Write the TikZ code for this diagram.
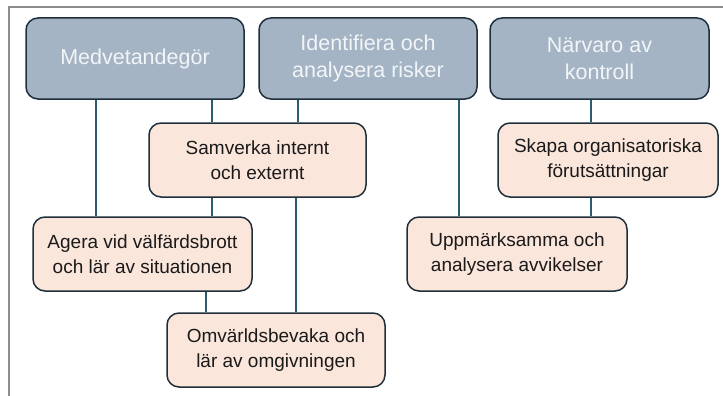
\documentclass[tikz,border=0pt]{standalone}
\usepackage{fontspec}
\setmainfont{Liberation Sans}
\definecolor{topfill}{HTML}{A4B4C4}
\definecolor{subfill}{HTML}{FBE6DC}
\definecolor{boxline}{HTML}{1E2E3A}
\definecolor{conline}{HTML}{2C5C72}
\definecolor{frameg}{HTML}{8C8C8C}
\definecolor{toptext}{HTML}{F2F5F7}
\definecolor{subtext}{HTML}{1A1A1A}
\begin{document}
\begin{tikzpicture}[x=1pt,y=-1pt,
  topbox/.style={draw=boxline, line width=1.5pt, fill=topfill, rounded corners=12pt,
    minimum width=218pt, minimum height=81pt, inner sep=0pt, align=center,
    text=toptext, font=\fontsize{21.5}{27}\selectfont},
  subbox/.style={draw=boxline, line width=1.5pt, fill=subfill, rounded corners=12pt,
    minimum width=218pt, minimum height=74pt, inner sep=0pt, align=center,
    text=subtext, font=\fontsize{19}{25}\selectfont},
  con/.style={draw=conline, line width=1.4pt}]
\useasboundingbox (0,0) rectangle (723,396);
\draw[frameg, line width=1.5pt] (9,396) -- (9,7) -- (723,7);

\node[topbox] (med) at (135,58.5) {Medvetandegör};
\node[topbox] (ide) at (368,58.5) {Identifiera och\\analysera risker};
\node[topbox, minimum width=219pt] (nar) at (599.5,58.5) {Närvaro av\\kontroll};

\node[subbox, minimum width=217pt] (sam) at (257.5,160) {Samverka internt\\och externt};
\node[subbox, minimum width=220pt] (ska) at (608,160) {Skapa organisatoriska\\förutsättningar};
\node[subbox, minimum width=219pt] (age) at (142.5,254) {Agera vid välfärdsbrott\\och lär av situationen};
\node[subbox, minimum width=220pt] (upp) at (517,254) {Uppmärksamma och\\analysera avvikelser};
\node[subbox] (omv) at (276,350) {Omvärldsbevaka och\\lär av omgivningen};

\coordinate (x1) at (96,0);
\coordinate (x2) at (212,0);
\coordinate (x3) at (298,0);
\coordinate (x4) at (296,0);
\coordinate (x5) at (206,0);
\coordinate (x6) at (459,0);
\coordinate (x7) at (591,0);

\draw[con] (med.south -| x1) -- (age.north -| x1);
\draw[con] (med.south -| x2) -- (sam.north -| x2);
\draw[con] (ide.south -| x3) -- (sam.north -| x3);
\draw[con] (sam.south -| x2) -- (age.north -| x2);
\draw[con] (sam.south -| x4) -- (omv.north -| x4);
\draw[con] (age.south -| x5) -- (omv.north -| x5);
\draw[con] (ide.south -| x6) -- (upp.north -| x6);
\draw[con] (nar.south -| x7) -- (ska.north -| x7);
\draw[con] (ska.south -| x7) -- (upp.north -| x7);
\end{tikzpicture}
\end{document}
